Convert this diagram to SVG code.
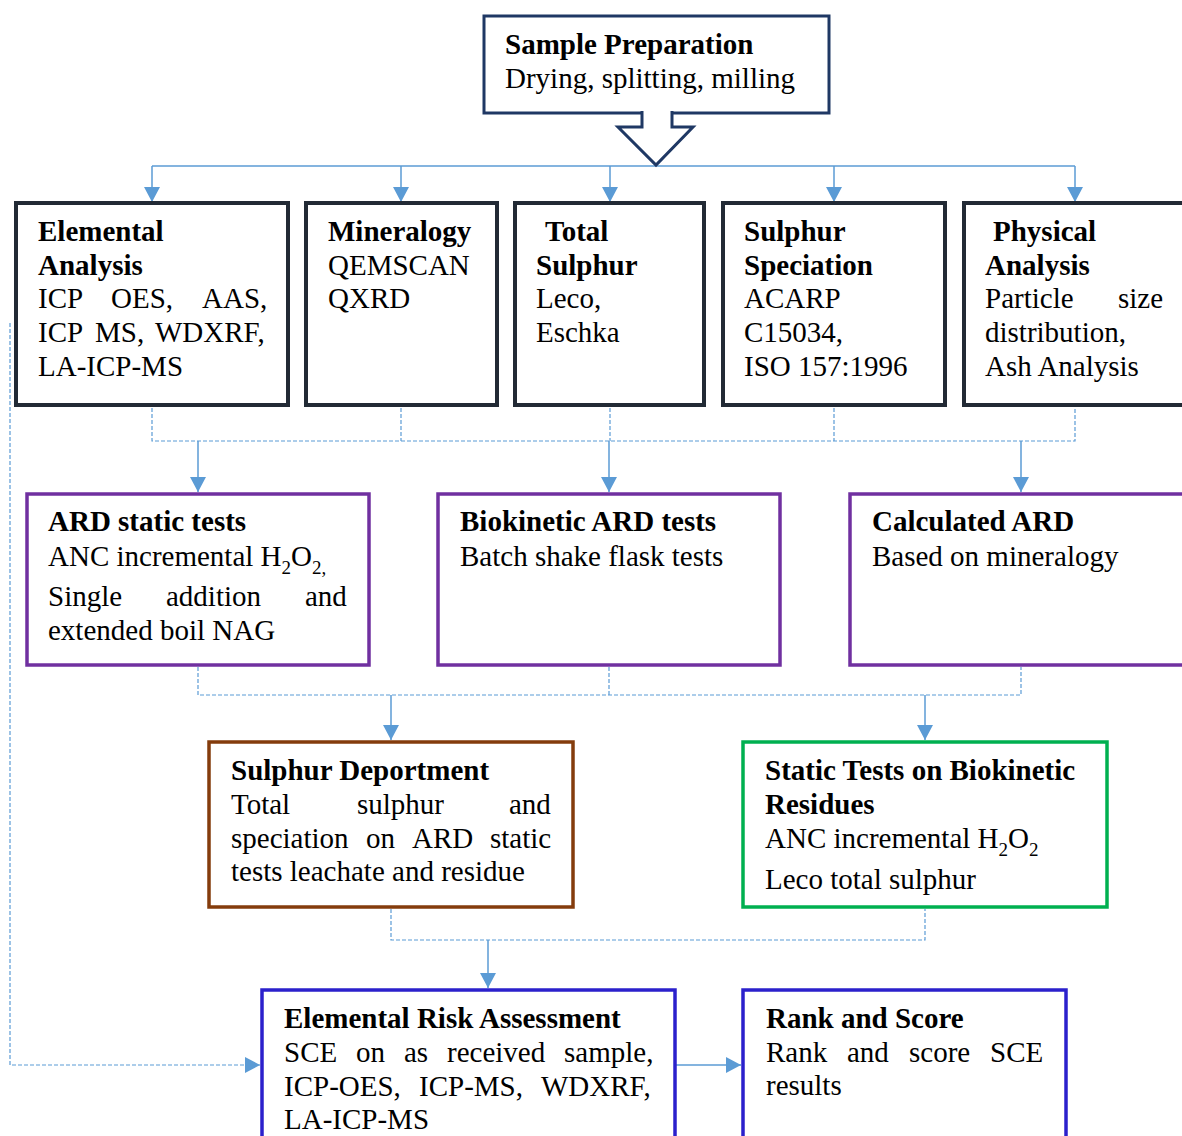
<svg xmlns="http://www.w3.org/2000/svg" width="1182" height="1136" viewBox="0 0 1182 1136">
  <style>
    text { font-family: "Liberation Serif", "Times New Roman", serif; font-size: 29px; fill: #000; }
    .b { font-weight: bold; }
    .sub { font-size: 19px; }
    .box { fill: #fff; }
    .navy { stroke: #1f3864; stroke-width: 3; }
    .dark { stroke: #222a35; stroke-width: 4; }
    .purple { stroke: #7030a0; stroke-width: 3.5; }
    .brown { stroke: #843c0c; stroke-width: 3.5; }
    .green { stroke: #00b050; stroke-width: 3.5; }
    .blue { stroke: #2b20cc; stroke-width: 3.5; }
    .link { fill: none; stroke: #5b9bd5; stroke-width: 1.5; }
    .dash { fill: none; stroke: #5b9bd5; stroke-width: 1.2; stroke-dasharray: 4 2; }
  </style>
  <defs>
    <marker id="arrow" viewBox="0 0 10 10" refX="10" refY="5" markerWidth="15" markerHeight="16" markerUnits="userSpaceOnUse" orient="auto" preserveAspectRatio="none">
      <path d="M0,0 L10,5 L0,10 z" fill="#5b9bd5"/>
    </marker>
  </defs>

  <rect width="1182" height="1136" fill="#fff"/>

  <!-- connectors -->
  <g id="connectors">
    <!-- fan-out from sample preparation -->
    <path class="link" d="M152,166 H1075"/>
    <path class="link" d="M152,166 V202" marker-end="url(#arrow)"/>
    <path class="link" d="M401,166 V202" marker-end="url(#arrow)"/>
    <path class="link" d="M610,166 V202" marker-end="url(#arrow)"/>
    <path class="link" d="M834,166 V202" marker-end="url(#arrow)"/>
    <path class="link" d="M1075,166 V202" marker-end="url(#arrow)"/>
    <!-- collector under analysis row -->
    <path class="dash" d="M152,408 V441 H1075 V408"/>
    <path class="dash" d="M401,408 V441"/>
    <path class="dash" d="M610,408 V441"/>
    <path class="dash" d="M834,408 V441"/>
    <path class="link" d="M198,441 V492" marker-end="url(#arrow)"/>
    <path class="link" d="M609,441 V492" marker-end="url(#arrow)"/>
    <path class="link" d="M1021,441 V492" marker-end="url(#arrow)"/>
    <!-- collector under ARD row -->
    <path class="dash" d="M198,667 V695 H1021 V667"/>
    <path class="dash" d="M609,667 V695"/>
    <path class="link" d="M391,695 V740" marker-end="url(#arrow)"/>
    <path class="link" d="M925,695 V740" marker-end="url(#arrow)"/>
    <!-- collector under deportment row -->
    <path class="dash" d="M391,909 V940 H925 V909"/>
    <path class="link" d="M488,940 V988" marker-end="url(#arrow)"/>
    <!-- bypass to elemental risk assessment -->
    <path class="dash" d="M10,323 V1065 H260" marker-end="url(#arrow)"/>
    <path class="link" d="M676,1065 H741" marker-end="url(#arrow)"/>
  </g>

  <!-- top node with block arrow -->
  <g id="sample-preparation">
    <rect class="box navy" x="484" y="16" width="345" height="97"/>
    <polyline points="642,111 642,127 618,127 656,165 693,127 672,127 672,111" fill="#fff" stroke="#1f3864" stroke-width="3" stroke-linejoin="miter"/>
    <text class="b" x="505" y="54">Sample Preparation</text>
    <text x="505" y="88">Drying, splitting, milling</text>
  </g>

  <!-- analysis row -->
  <g id="elemental-analysis">
    <rect class="box dark" x="16" y="203" width="272" height="202"/>
    <text class="b" x="38" y="241">Elemental</text>
    <text class="b" x="38" y="275">Analysis</text>
    <text y="308"><tspan x="38">ICP</tspan><tspan x="111">OES,</tspan><tspan x="202">AAS,</tspan></text>
    <text y="342"><tspan x="38">ICP</tspan><tspan x="95">MS,</tspan><tspan x="155">WDXRF,</tspan></text>
    <text x="38" y="376">LA-ICP-MS</text>
  </g>

  <g id="mineralogy">
    <rect class="box dark" x="306" y="203" width="191" height="202"/>
    <text class="b" x="328" y="241">Mineralogy</text>
    <text x="328" y="275">QEMSCAN</text>
    <text x="328" y="308">QXRD</text>
  </g>

  <g id="total-sulphur">
    <rect class="box dark" x="515" y="203" width="189" height="202"/>
    <text class="b" x="545" y="241">Total</text>
    <text class="b" x="536" y="275">Sulphur</text>
    <text x="536" y="308">Leco,</text>
    <text x="536" y="342">Eschka</text>
  </g>

  <g id="sulphur-speciation">
    <rect class="box dark" x="723" y="203" width="222" height="202"/>
    <text class="b" x="744" y="241">Sulphur</text>
    <text class="b" x="744" y="275">Speciation</text>
    <text x="744" y="308">ACARP</text>
    <text x="744" y="342">C15034,</text>
    <text x="744" y="376">ISO 157:1996</text>
  </g>

  <g id="physical-analysis">
    <rect class="box dark" x="964" y="203" width="240" height="202"/>
    <text class="b" x="993" y="241">Physical</text>
    <text class="b" x="985" y="275">Analysis</text>
    <text y="308"><tspan x="985">Particle</tspan><tspan x="1118">size</tspan></text>
    <text x="985" y="342">distribution,</text>
    <text x="985" y="376">Ash Analysis</text>
  </g>

  <!-- ARD row -->
  <g id="ard-static-tests">
    <rect class="box purple" x="27" y="494" width="342" height="171"/>
    <text class="b" x="48" y="531">ARD static tests</text>
    <text x="48" y="566">ANC incremental H<tspan class="sub" dy="8">2</tspan><tspan dy="-8">O</tspan><tspan class="sub" dy="8">2,</tspan></text>
    <text y="606"><tspan x="48">Single</tspan><tspan x="166">addition</tspan><tspan x="305">and</tspan></text>
    <text x="48" y="640">extended boil NAG</text>
  </g>

  <g id="biokinetic-ard-tests">
    <rect class="box purple" x="438" y="494" width="342" height="171"/>
    <text class="b" x="460" y="531">Biokinetic ARD tests</text>
    <text x="460" y="566">Batch shake flask tests</text>
  </g>

  <g id="calculated-ard">
    <rect class="box purple" x="850" y="494" width="360" height="171"/>
    <text class="b" x="872" y="531">Calculated ARD</text>
    <text x="872" y="566">Based on mineralogy</text>
  </g>

  <!-- deportment row -->
  <g id="sulphur-deportment">
    <rect class="box brown" x="209" y="742" width="364" height="165"/>
    <text class="b" x="231" y="780">Sulphur Deportment</text>
    <text y="814"><tspan x="231">Total</tspan><tspan x="357">sulphur</tspan><tspan x="509">and</tspan></text>
    <text y="848"><tspan x="231">speciation</tspan><tspan x="366">on</tspan><tspan x="412">ARD</tspan><tspan x="490">static</tspan></text>
    <text x="231" y="881">tests leachate and residue</text>
  </g>

  <g id="static-tests-biokinetic-residues">
    <rect class="box green" x="743" y="742" width="364" height="165"/>
    <text class="b" x="765" y="780">Static Tests on Biokinetic</text>
    <text class="b" x="765" y="814">Residues</text>
    <text x="765" y="848">ANC incremental H<tspan class="sub" dy="8">2</tspan><tspan dy="-8">O</tspan><tspan class="sub" dy="8">2</tspan></text>
    <text x="765" y="889">Leco total sulphur</text>
  </g>

  <!-- assessment row -->
  <g id="elemental-risk-assessment">
    <rect class="box blue" x="262" y="990" width="413" height="200"/>
    <text class="b" x="284" y="1028">Elemental Risk Assessment</text>
    <text y="1062"><tspan x="284">SCE</tspan><tspan x="356">on</tspan><tspan x="404">as</tspan><tspan x="447">received</tspan><tspan x="564">sample,</tspan></text>
    <text y="1096"><tspan x="284">ICP-OES,</tspan><tspan x="419">ICP-MS,</tspan><tspan x="541">WDXRF,</tspan></text>
    <text x="284" y="1129">LA-ICP-MS</text>
  </g>

  <g id="rank-and-score">
    <rect class="box blue" x="743" y="990" width="323" height="200"/>
    <text class="b" x="766" y="1028">Rank and Score</text>
    <text y="1062"><tspan x="766">Rank</tspan><tspan x="847">and</tspan><tspan x="909">score</tspan><tspan x="990">SCE</tspan></text>
    <text x="766" y="1095">results</text>
  </g>
</svg>
